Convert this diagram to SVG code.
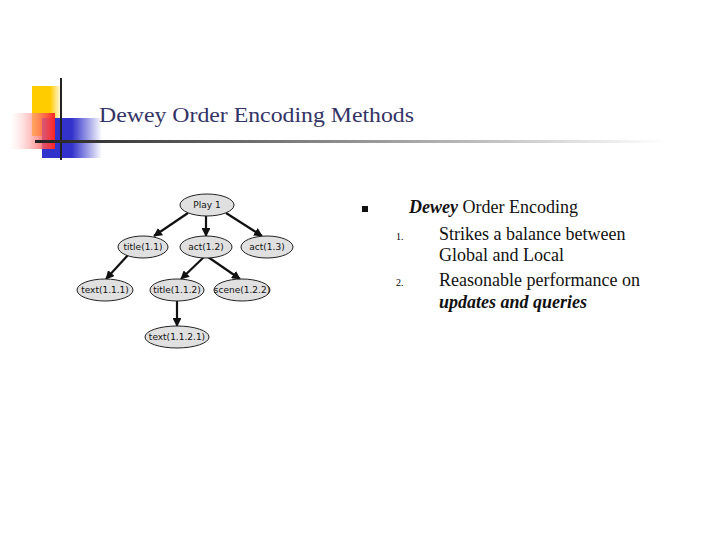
<svg xmlns="http://www.w3.org/2000/svg" width="720" height="540" viewBox="0 0 720 540">
<defs>
<linearGradient id="line" x1="0" x2="1"><stop offset="0" stop-color="#222"/><stop offset="1" stop-color="#fff"/></linearGradient>
<linearGradient id="red" x1="1" x2="0"><stop offset="0" stop-color="#f22"/><stop offset="1" stop-color="#fff" stop-opacity="0.3"/></linearGradient>
<linearGradient id="blue" x1="0" x2="1"><stop offset="0.5" stop-color="#33c"/><stop offset="1" stop-color="#fff"/></linearGradient>
<linearGradient id="yel" x1="0" x2="1"><stop offset="0.6" stop-color="#fc0"/><stop offset="1" stop-color="#fff"/></linearGradient>
<marker id="ah" viewBox="0 0 10 10" refX="9" refY="5" markerWidth="4" markerHeight="4" orient="auto"><path d="M0,0L10,5L0,10z" fill="#111"/></marker>
</defs>
<style>
.n ellipse{fill:#e0e0e0;stroke:#222;stroke-width:1}
.n text{font-family:"DejaVu Sans",sans-serif;font-size:9px;text-anchor:middle;fill:#111}
.e line{stroke:#111;stroke-width:2.2;marker-end:url(#ah)}
.r{font-family:"Liberation Serif",serif;font-size:18px;fill:#111}
</style>
<rect x="32" y="86" width="30" height="50" fill="url(#yel)"/>
<rect x="42" y="118" width="60" height="40" fill="url(#blue)"/>
<rect x="10" y="113" width="45" height="36" fill="url(#red)"/>
<line x1="61" y1="78" x2="61" y2="160" stroke="#222" stroke-width="2"/>
<rect x="35" y="140" width="630" height="3" fill="url(#line)"/>
<text x="99" y="122" font-family="Liberation Serif,serif" font-size="22" textLength="315" lengthAdjust="spacingAndGlyphs" fill="#333366">Dewey Order Encoding Methods</text>
<g class="e">
<line x1="188" y1="213" x2="154" y2="236"/>
<line x1="206" y1="216" x2="206" y2="236"/>
<line x1="226" y1="213" x2="262" y2="236"/>
<line x1="128" y1="255" x2="106" y2="279"/>
<line x1="204" y1="257" x2="181" y2="279"/>
<line x1="208" y1="257" x2="240" y2="279"/>
<line x1="177" y1="301" x2="177" y2="326"/>
</g>
<g id="play1" class="n"><ellipse cx="207" cy="205" rx="27" ry="11"/><text x="207" y="208">Play 1</text></g>
<g id="title11" class="n"><ellipse cx="143" cy="247" rx="25" ry="11"/><text x="143" y="250">title(1.1)</text></g>
<g id="act12" class="n"><ellipse cx="206" cy="247" rx="26" ry="11"/><text x="206" y="250">act(1.2)</text></g>
<g id="act13" class="n"><ellipse cx="267" cy="247" rx="26" ry="11"/><text x="267" y="250">act(1.3)</text></g>
<g id="text111" class="n"><ellipse cx="105" cy="290" rx="28" ry="11"/><text x="105" y="293">text(1.1.1)</text></g>
<g id="title112" class="n"><ellipse cx="177" cy="290" rx="27" ry="11"/><text x="177" y="293">title(1.1.2)</text></g>
<g id="scene122" class="n"><ellipse cx="242" cy="290" rx="28" ry="11"/><text x="242" y="293" font-size="8.5">scene(1.2.2)</text></g>
<g id="text1121" class="n"><ellipse cx="177" cy="337" rx="32" ry="11"/><text x="177" y="340">text(1.1.2.1)</text></g>
<rect x="362" y="206" width="6" height="6" fill="#111"/>
<text class="r" x="409" y="213"><tspan font-style="italic" font-weight="bold">Dewey</tspan> Order Encoding</text>
<text x="396" y="240" font-family="Liberation Serif,serif" font-size="10">1.</text>
<text class="r" x="439" y="240">Strikes a balance between</text>
<text class="r" x="439" y="261">Global and Local</text>
<text x="396" y="286" font-family="Liberation Serif,serif" font-size="10">2.</text>
<text class="r" x="439" y="286">Reasonable performance on</text>
<text class="r" x="439" y="308" font-style="italic" font-weight="bold">updates and  queries</text>
</svg>
